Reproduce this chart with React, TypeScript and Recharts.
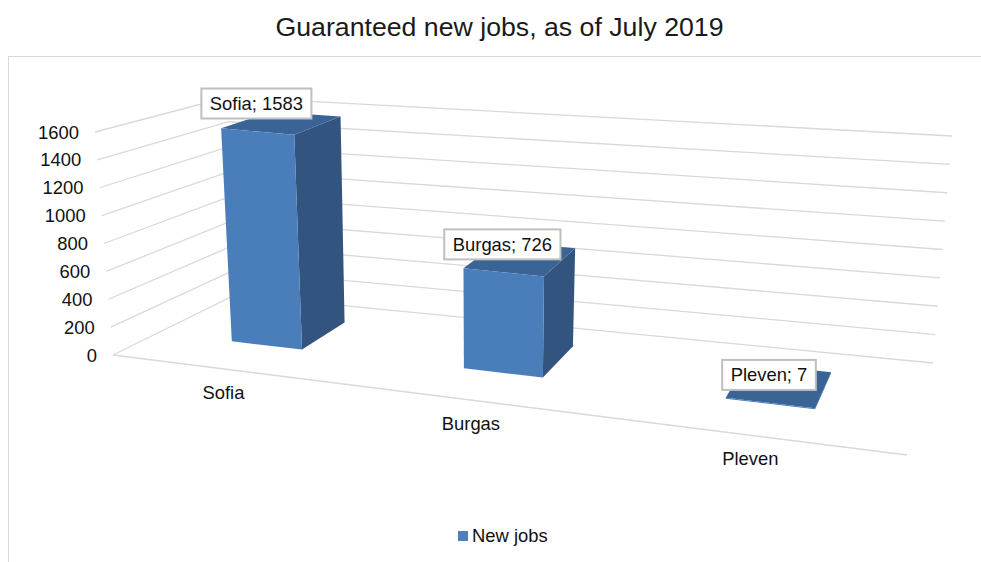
import * as React from 'react';
import { Bar, BarChart, CartesianGrid, LabelList, Legend, XAxis, YAxis } from 'recharts';

const cities = ['Sofia', 'Burgas', 'Pleven'];
const newJobs = [1583, 726, 7];
const valueTicks = [0, 200, 400, 600, 800, 1000, 1200, 1400, 1600];
const seriesName = 'New jobs';
const chartTitle = 'Guaranteed new jobs, as of July 2019';

const chartData = cities.map((city, i) => ({ city, jobs: newJobs[i] }));

const WIDTH = 981;
const HEIGHT = 562;
const FONT = '"Liberation Sans", Arial, sans-serif';
const FONT_SIZE = 18.4;
const MARGIN = { top: 20, right: 20, bottom: 20, left: 20 };
const Y_AXIS_WIDTH = 40;
const X_AXIS_HEIGHT = 30;

// flat plot rectangle that recharts computes from the sizes above
const plot = {
  x: MARGIN.left + Y_AXIS_WIDTH,
  y: MARGIN.top,
  w: WIDTH - MARGIN.left - MARGIN.right - Y_AXIS_WIDTH,
  h: HEIGHT - MARGIN.top - MARGIN.bottom - X_AXIS_HEIGHT,
};

// corners of the 3D box on screen: floor/ceiling, front/back, left/right
const box = {
  floorFrontLeft: [113, 355],
  floorFrontRight: [907, 455],
  floorBackLeft: [235, 295],
  floorBackRight: [933, 363],
  topFrontLeft: [95, 132],
  topFrontRight: [925, 222],
  topBackLeft: [228, 97],
  topBackRight: [952, 136],
};

const BAR_DEPTH_FRONT = 0.37;
const BAR_DEPTH_BACK = 0.78;
const FORESHORTEN = 1.2;

const mix = (a: number[], b: number[], t: number) => [a[0] + (b[0] - a[0]) * t, a[1] + (b[1] - a[1]) * t];

// u: 0..1 along the categories, v: 0..1 up the value axis, w: 0..1 into the depth
function project(u: number, v: number, w: number) {
  const k = u / (u + FORESHORTEN * (1 - u));
  const floor = mix(
    mix(box.floorFrontLeft, box.floorFrontRight, k),
    mix(box.floorBackLeft, box.floorBackRight, k),
    w,
  );
  const top = mix(
    mix(box.topFrontLeft, box.topFrontRight, k),
    mix(box.topBackLeft, box.topBackRight, k),
    w,
  );
  return mix(floor, top, v);
}

const toU = (x: number) => (x - plot.x) / plot.w;
const toV = (y: number) => (plot.y + plot.h - y) / plot.h;
const points = (list: number[][]) => list.map((p) => `${p[0]},${p[1]}`).join(' ');

function GridLine(props: any) {
  const v = toV(props.y1);
  const path = [project(0, v, 0), project(0, v, 1), project(1, v, 1)];
  return (
    <g>
      <polyline points={points(path)} fill="none" stroke="#d9d9d9" strokeWidth={1.3} />
      {v < 0.001 && (
        <polyline points={points([project(0, 0, 0), project(1, 0, 0)])} fill="none" stroke="#d9d9d9" strokeWidth={1.3} />
      )}
    </g>
  );
}

function ValueTick(props: any) {
  const [x, y] = project(0, toV(props.y), 0);
  return (
    <text x={x - 16} y={y} textAnchor="end" dominantBaseline="central" fontSize={FONT_SIZE} fontFamily={FONT} fill="#111">
      {props.payload.value}
    </text>
  );
}

function CityTick(props: any) {
  const [x, y] = project(toU(props.x), 0, 0);
  return (
    <text x={x - 3} y={y + 23} textAnchor="middle" dominantBaseline="central" fontSize={FONT_SIZE} fontFamily={FONT} fill="#111">
      {props.payload.value}
    </text>
  );
}

function Column(props: any) {
  const { x, y, width } = props;
  const u0 = toU(x);
  const u1 = toU(x + width);
  const v = toV(y);
  const f = BAR_DEPTH_FRONT;
  const b = BAR_DEPTH_BACK;
  return (
    <g>
      <polygon
        points={points([project(u1, 0, f), project(u1, 0, b), project(u1, v, b), project(u1, v, f)])}
        fill="#33547e"
      />
      <polygon
        points={points([project(u0, v, f), project(u1, v, f), project(u1, v, b), project(u0, v, b)])}
        fill="#3a6496"
      />
      <polygon
        points={points([project(u0, 0, f), project(u1, 0, f), project(u1, v, f), project(u0, v, f)])}
        fill="#4a7ebb"
      />
    </g>
  );
}

let measureCtx: CanvasRenderingContext2D | null = null;
function textWidth(s: string) {
  if (!measureCtx) {
    measureCtx = document.createElement('canvas').getContext('2d');
  }
  measureCtx!.font = `${FONT_SIZE}px "Liberation Sans"`;
  return measureCtx!.measureText(s).width;
}

function ValueLabel(props: any) {
  const { x, y, width, value, index } = props;
  const v = toV(y);
  const [cx, cy] = project(toU(x + width / 2), v, BAR_DEPTH_FRONT);
  const text = `${cities[index]}; ${value}`;
  const boxW = textWidth(text) + 17;
  const boxH = 30;
  const top = cy - 28 - boxH / 2;
  return (
    <g>
      <rect x={cx - 1 - boxW / 2} y={top} width={boxW} height={boxH} fill="#fff" stroke="#bfbfbf" strokeWidth={2} />
      <text x={cx - 1} y={top + boxH / 2} textAnchor="middle" dominantBaseline="central" fontSize={FONT_SIZE} fontFamily={FONT} fill="#111">
        {text}
      </text>
    </g>
  );
}

function LegendRow() {
  return (
    <div style={{ display: 'flex', alignItems: 'center', fontFamily: FONT, fontSize: FONT_SIZE, color: '#111' }}>
      <span style={{ width: 10, height: 10, background: '#4f81bd', marginRight: 4 }} />
      {seriesName}
    </div>
  );
}

export default function App() {
  return (
    <div style={{ position: 'absolute', left: 0, top: 0, width: WIDTH, height: HEIGHT, background: '#fff', overflow: 'hidden' }}>
      <div
        style={{
          position: 'absolute',
          left: 0,
          width: 999,
          top: 12,
          textAlign: 'center',
          fontFamily: FONT,
          fontSize: 26.7,
          color: '#1a1a1a',
          whiteSpace: 'nowrap',
        }}
      >
        {chartTitle}
      </div>
      <div
        style={{
          position: 'absolute',
          left: 8,
          top: 56,
          width: WIDTH,
          height: HEIGHT,
          borderLeft: '1px solid #d9d9d9',
          borderTop: '1px solid #d9d9d9',
        }}
      />
      <BarChart
        width={WIDTH}
        height={HEIGHT}
        data={chartData}
        margin={MARGIN}
        barSize={plot.w * 0.105}
        style={{ position: 'absolute', left: 0, top: 0 }}
      >
        <CartesianGrid vertical={false} horizontal={GridLine} />
        <XAxis dataKey="city" height={X_AXIS_HEIGHT} axisLine={false} tickLine={false} interval={0} tick={CityTick} />
        <YAxis
          domain={[0, 1600]}
          ticks={valueTicks}
          width={Y_AXIS_WIDTH}
          axisLine={false}
          tickLine={false}
          interval={0}
          tick={ValueTick}
        />
        <Legend
          layout="horizontal"
          verticalAlign="middle"
          align="center"
          content={<LegendRow />}
          wrapperStyle={{ position: 'absolute', left: 458, top: 525, width: 100, height: 22, bottom: 'auto', right: 'auto' }}
        />
        <Bar dataKey="jobs" name={seriesName} shape={Column} isAnimationActive={false}>
          <LabelList dataKey="jobs" content={ValueLabel} />
        </Bar>
      </BarChart>
    </div>
  );
}
